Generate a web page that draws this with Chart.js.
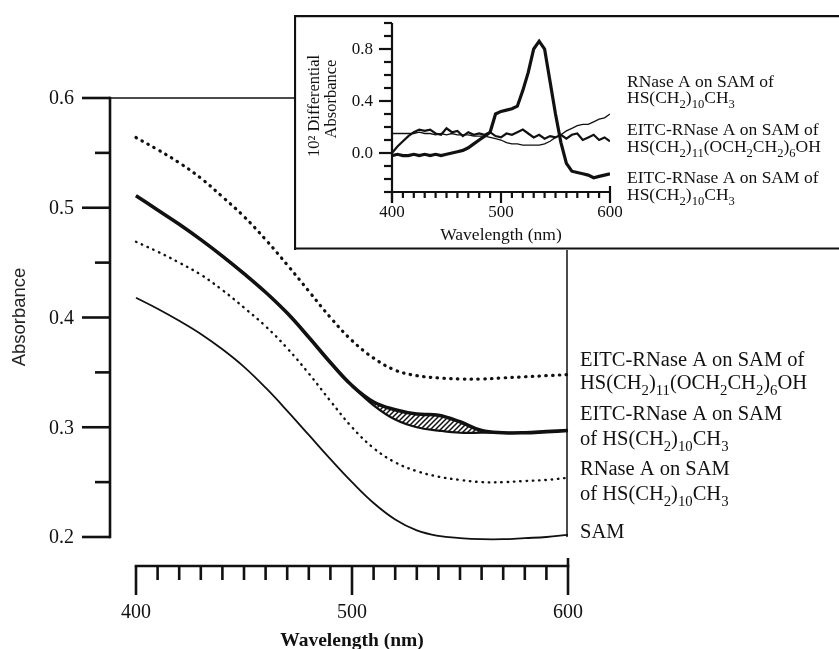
<!DOCTYPE html>
<html><head><meta charset="utf-8">
<script src="https://cdn.jsdelivr.net/npm/chart.js@4/dist/chart.umd.min.js"></script>
<style>
html,body{margin:0;padding:0;background:#fff;}
#wrap{position:relative;width:839px;height:649px;overflow:hidden;background:#fff;}
#main{position:absolute;left:0;top:0;}
#inset{position:absolute;left:294px;top:15px;background:#fff;}
</style></head><body>
<div id="wrap"><canvas id="main" width="839" height="649"></canvas><canvas id="inset" width="545" height="235"></canvas></div>
<script>
// ---------- main chart data ----------
const wavelengths = [400,410,420,430,440,450,460,470,480,490,500,510,520,530,540,550,560,570,580,590,600];
const samAbs      = [.418,.408,.397,.385,.371,.355,.336,.315,.293,.271,.250,.231,.216,.206,.201,.199,.198,.198,.199,.200,.202];
const rnaseAbs    = [.469,.460,.450,.439,.425,.409,.392,.372,.349,.324,.300,.281,.268,.260,.255,.252,.250,.250,.251,.252,.254];
const eitcCH3Abs  = [.511,.498,.485,.471,.456,.440,.423,.404,.382,.359,.338,.323,.316,.312,.311,.305,.297,.295,.295,.296,.297];
const eitcCH3Base = [.511,.498,.485,.471,.456,.440,.423,.404,.382,.359,.338,.320,.307,.300,.297,.295,.295,.295,.295,.296,.297];
const eitcPEGAbs  = [.564,.553,.541,.527,.510,.492,.471,.448,.424,.400,.379,.363,.352,.347,.345,.344,.344,.345,.346,.347,.348];
const mainYTicks = [0.2,0.3,0.4,0.5,0.6];
const mainYMinor = [0.25,0.35,0.45,0.55];
const mainXTicks = [400,500,600];
const mainXMinorStep = 10;
const mainYTitle = 'Absorbance';
const mainXTitle = 'Wavelength (nm)';
const mainLabels = [
  ['EITC-RNase A on SAM of','HS(CH_2)_11(OCH_2CH_2)_6OH'],
  ['EITC-RNase A on SAM','of HS(CH_2)_10CH_3'],
  ['RNase A on SAM','of HS(CH_2)_10CH_3'],
  ['SAM']
];

// ---------- inset data ----------
const insetWavelengths = [400,405,410,415,420,425,430,435,440,445,450,455,460,465,470,475,480,485,490,495,500,505,510,515,520,525,530,535,540,545,550,555,560,565,570,575,580,585,590,595,600];
const insetRNase   = [.15,.15,.15,.15,.15,.16,.15,.15,.14,.15,.14,.15,.14,.14,.14,.13,.13,.13,.12,.11,.10,.08,.07,.07,.06,.06,.06,.06,.07,.09,.12,.14,.17,.19,.21,.22,.22,.24,.26,.27,.30];
const insetEitcPEG = [.00,.05,.09,.13,.16,.18,.17,.18,.15,.14,.19,.16,.17,.13,.16,.14,.15,.14,.16,.13,.12,.15,.14,.16,.18,.15,.12,.14,.11,.13,.12,.14,.11,.14,.15,.10,.12,.14,.10,.12,.09];
const insetEitcCH3 = [-.02,-.01,-.02,-.02,-.01,-.02,-.01,-.02,-.01,-.02,-.01,0.0,.01,.02,.04,.07,.10,.13,.16,.30,.32,.33,.34,.36,.48,.62,.80,.86,.80,.55,.30,.08,-.08,-.14,-.15,-.16,-.17,-.19,-.18,-.17,-.16];
const insetYTicks = [0.0,0.4,0.8];
const insetYMinorStep = 0.1;
const insetXTicks = [400,500,600];
const insetYTitle = ['10\u00B2 Differential','Absorbance'];
const insetXTitle = 'Wavelength (nm)';
const insetLabels = [
  ['RNase A on SAM of','HS(CH_2)_10CH_3'],
  ['EITC-RNase A on SAM of','HS(CH_2)_11(OCH_2CH_2)_6OH'],
  ['EITC-RNase A on SAM of','HS(CH_2)_10CH_3']
];

const INK = '#111';
const SERIF = '"Liberation Serif", "Times New Roman", serif';

function pts(xs, ys){ return xs.map((x,i)=>({x:x, y:ys[i]})); }

function drawRich(ctx, text, x, y, size){
  const parts = text.split(/_(\d+)/);
  let cx = x;
  ctx.textAlign = 'left';
  ctx.textBaseline = 'alphabetic';
  parts.forEach((p,i)=>{
    if(!p) return;
    if(i%2===1){
      ctx.font = (size*0.72)+'px '+SERIF;
      ctx.fillText(p, cx, y + size*0.28);
    } else {
      ctx.font = size+'px '+SERIF;
      ctx.fillText(p, cx, y);
    }
    cx += ctx.measureText(p).width;
  });
}

function seg(ctx,x1,y1,x2,y2){ ctx.beginPath(); ctx.moveTo(x1,y1); ctx.lineTo(x2,y2); ctx.stroke(); }

function hatchPattern(){
  const c = document.createElement('canvas');
  c.width = 5; c.height = 5;
  const g = c.getContext('2d');
  g.strokeStyle = INK; g.lineWidth = 1.5;
  g.beginPath();
  g.moveTo(0,5); g.lineTo(5,0);
  g.moveTo(-2.5,2.5); g.lineTo(2.5,-2.5);
  g.moveTo(2.5,7.5); g.lineTo(7.5,2.5);
  g.stroke();
  return g.createPattern(c,'repeat');
}

const mainAxes = {
  id:'mainAxes',
  afterDraw(chart){
    const {ctx, scales:{x,y}} = chart;
    ctx.save();
    ctx.strokeStyle = INK; ctx.fillStyle = INK; ctx.lineCap = 'butt';
    const axX = 110;
    const yTop = y.getPixelForValue(0.6), yBot = y.getPixelForValue(0.2);
    ctx.lineWidth = 1.5;
    seg(ctx, axX, yTop, 294, yTop);
    seg(ctx, x.getPixelForValue(600)-1, 249, x.getPixelForValue(600)-1, yBot);
    ctx.lineWidth = 2.6;
    seg(ctx, axX, yTop-1.3, axX, yBot+1.3);
    mainYTicks.forEach(v=>{ const py=y.getPixelForValue(v); seg(ctx, 82, py, axX, py); });
    mainYMinor.forEach(v=>{ const py=y.getPixelForValue(v); seg(ctx, 95, py, axX, py); });
    ctx.font = '20px '+SERIF; ctx.textAlign='right'; ctx.textBaseline='middle';
    mainYTicks.forEach(v=>{ ctx.fillText(v.toFixed(1), 74, y.getPixelForValue(v)+1); });
    const axY = 566;
    const x0 = x.getPixelForValue(400), x1 = x.getPixelForValue(600);
    seg(ctx, x0-1.3, axY, x1+1.3, axY);
    for(let w=400; w<=600; w+=mainXMinorStep){
      const px = x.getPixelForValue(w);
      if(mainXTicks.includes(w)){
        seg(ctx, px, w===600?558:axY, px, 595);
      } else {
        seg(ctx, px, axY, px, 580);
      }
    }
    ctx.font = '20px '+SERIF; ctx.textAlign='center'; ctx.textBaseline='middle';
    mainXTicks.forEach(w=>{ ctx.fillText(String(w), x.getPixelForValue(w), 613); });
    ctx.font = 'bold 19.5px '+SERIF;
    ctx.fillText(mainXTitle, (x0+x1)/2, 641);
    ctx.save();
    ctx.translate(20, 317); ctx.rotate(-Math.PI/2);
    ctx.font = '18.5px "Liberation Sans", Arial, sans-serif'; ctx.fillStyle='#222';
    ctx.textAlign='center'; ctx.textBaseline='middle';
    ctx.fillText(mainYTitle, 0, 0);
    ctx.restore();
    const baselines = [[366,389],[420,445],[475,500],[538]];
    mainLabels.forEach((lines,i)=>{
      lines.forEach((t,j)=> drawRich(ctx, t, 580, baselines[i][j], 20.5));
    });
    ctx.restore();
  }
};

const CLIP = {left:6, top:6, right:6, bottom:6};
new Chart(document.getElementById('main'), {
  type:'line',
  data:{ datasets:[
    { label:'EITC-RNase A on SAM of HS(CH2)11(OCH2CH2)6OH', data:pts(wavelengths, eitcPEGAbs),
      borderColor:INK, borderWidth:3.2, borderDash:[0.5,6.3], borderCapStyle:'round', fill:false, tension:0.4, clip:CLIP },
    { label:'EITC-RNase A on SAM of HS(CH2)10CH3', data:pts(wavelengths, eitcCH3Abs),
      borderColor:INK, borderWidth:3.6, fill:{target:'+1', above:hatchPattern(), below:'rgba(0,0,0,0)'}, tension:0.4, clip:CLIP },
    { label:'EITC-RNase A baseline', data:pts(wavelengths, eitcCH3Base),
      borderColor:INK, borderWidth:2.2, fill:false, tension:0.4, clip:CLIP },
    { label:'RNase A on SAM of HS(CH2)10CH3', data:pts(wavelengths, rnaseAbs),
      borderColor:INK, borderWidth:2.4, borderDash:[0.5,5.8], borderCapStyle:'round', fill:false, tension:0.4, clip:CLIP },
    { label:'SAM', data:pts(wavelengths, samAbs),
      borderColor:INK, borderWidth:1.8, fill:false, tension:0.4, clip:CLIP }
  ]},
  options:{
    responsive:false, animation:false,
    layout:{ padding:{ left:136, right:271, top:98, bottom:112 } },
    elements:{ point:{ radius:0 } },
    plugins:{ legend:{display:false}, tooltip:{enabled:false} },
    scales:{
      x:{ type:'linear', min:400, max:600, display:false },
      y:{ type:'linear', min:0.2, max:0.6, display:false }
    }
  },
  plugins:[mainAxes]
});

const insetAxes = {
  id:'insetAxes',
  afterDraw(chart){
    const {ctx, scales:{x,y}, width, height} = chart;
    ctx.save();
    ctx.strokeStyle = INK; ctx.fillStyle = INK;
    ctx.lineWidth = 2.2;
    seg(ctx, 1, 0, 1, height);
    seg(ctx, 0, 1.2, width, 1.2);
    seg(ctx, 0, height-1.5, width, height-1.5);
    const axX = x.getPixelForValue(400), axY = y.getPixelForValue(-0.3);
    seg(ctx, axX, y.getPixelForValue(1.0), axX, axY+11);
    for(let k=-3; k<=10; k++){
      const v = k*insetYMinorStep; const py = y.getPixelForValue(v);
      const major = insetYTicks.some(t=>Math.abs(t-v)<1e-6);
      seg(ctx, axX-(major?13:8), py, axX, py);
    }
    ctx.font = '17px '+SERIF; ctx.textAlign='right'; ctx.textBaseline='middle';
    insetYTicks.forEach(v=> ctx.fillText(v.toFixed(1), 79, y.getPixelForValue(v)+1));
    seg(ctx, axX-1, axY, x.getPixelForValue(600)+1, axY);
    for(let w=400; w<=600; w+=10){
      const px = x.getPixelForValue(w);
      const major = insetXTicks.includes(w);
      seg(ctx, px, w===600?axY-6:axY, px, axY+(major?11:6));
    }
    ctx.textAlign='center';
    insetXTicks.forEach(w=> ctx.fillText(String(w), x.getPixelForValue(w), 198));
    ctx.font = '17.5px '+SERIF;
    ctx.fillText(insetXTitle, (x.getPixelForValue(400)+x.getPixelForValue(600))/2, 220);
    ctx.save();
    ctx.font = '16.5px '+SERIF; ctx.textAlign='center'; ctx.textBaseline='middle';
    ctx.translate(21, 91); ctx.rotate(-Math.PI/2); ctx.fillText(insetYTitle[0], 0, 0);
    ctx.restore();
    ctx.save();
    ctx.font = '16.5px '+SERIF; ctx.textAlign='center'; ctx.textBaseline='middle';
    ctx.translate(38, 84); ctx.rotate(-Math.PI/2); ctx.fillText(insetYTitle[1], 0, 0);
    ctx.restore();
    const bl = [[72,88],[120,137],[168,185]];
    insetLabels.forEach((lines,i)=> lines.forEach((t,j)=> drawRich(ctx, t, 333, bl[i][j], 17.5)));
    ctx.restore();
  }
};

new Chart(document.getElementById('inset'), {
  type:'line',
  data:{ datasets:[
    { label:'RNase A on SAM of HS(CH2)10CH3', data:pts(insetWavelengths, insetRNase), borderColor:INK, borderWidth:1.3, tension:0, fill:false },
    { label:'EITC-RNase A on SAM of HS(CH2)11(OCH2CH2)6OH', data:pts(insetWavelengths, insetEitcPEG), borderColor:INK, borderWidth:2.2, tension:0, fill:false },
    { label:'EITC-RNase A on SAM of HS(CH2)10CH3', data:pts(insetWavelengths, insetEitcCH3), borderColor:INK, borderWidth:3.2, tension:0, fill:false }
  ]},
  options:{
    responsive:false, animation:false,
    layout:{ padding:{ left:98, right:229, top:8, bottom:58 } },
    elements:{ point:{ radius:0 } },
    plugins:{ legend:{display:false}, tooltip:{enabled:false} },
    scales:{
      x:{ type:'linear', min:400, max:600, display:false },
      y:{ type:'linear', min:-0.3, max:1.0, display:false }
    }
  },
  plugins:[insetAxes]
});
</script>
</body></html>
